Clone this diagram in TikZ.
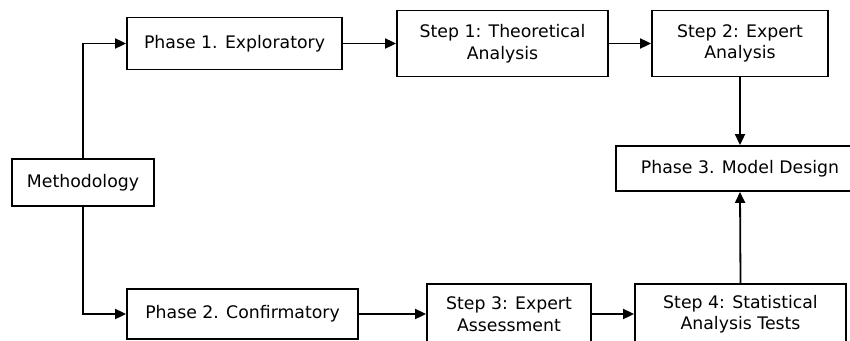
\documentclass[tikz,border=0pt]{standalone}
\usepackage{fontspec}
\setmainfont{DejaVu Sans}
\usetikzlibrary{arrows.meta}

\begin{document}
\begin{tikzpicture}[x=1pt, y=-1pt, line width=1.8pt, box/.style = {shape=rectangle, draw, align=center, fill=white, inner sep=0pt, font=\fontsize{17.3}{21.5}\selectfont}, arr/.style = {-{Triangle[length=11pt, width=10pt]}}]
	\useasboundingbox (0,0) rectangle (850,340);
	\clip (0,0) rectangle (850,340);
	\node[box, minimum width=142, minimum height=47] (method) at (83,182.5) {Methodology};
	\node[box, minimum width=215, minimum height=52] (phaseone) at (234.5,43.5) {Phase 1. Exploratory};
	\node[box, minimum width=211, minimum height=66] (stepone) at (502.5,43.5) {Step 1: Theoretical\\Analysis};
	\node[box, minimum width=176, minimum height=66] (steptwo) at (740,43.5) {Step 2: Expert\\Analysis};
	\node[box, minimum width=248, minimum height=45] (phasethree) at (740,168.5) {Phase 3. Model Design};
	\node[box, minimum width=231, minimum height=50] (phasetwo) at (242.5,314) {Phase 2. Confirmatory};
	\node[box, minimum width=164, minimum height=60] (stepthree) at (509,314) {Step 3: Expert\\Assessment};
	\node[box, minimum width=211, minimum height=60] (stepfour) at (740.5,314) {Step 4: Statistical\\Analysis Tests};
	\draw[arr] (method.north) |- (phaseone.west);
	\draw[arr] (method.south) |- (phasetwo.west);
	\draw[arr] (phaseone.east) -- (stepone.west);
	\draw[arr] (stepone.east) -- (steptwo.west);
	\draw[arr] (steptwo.south) -- (phasethree.north);
	\draw[arr] (phasetwo.east) -- (stepthree.west);
	\draw[arr] (stepthree.east) -- (stepfour.west);
	\draw[arr] (stepfour.north) -- (phasethree.south);
\end{tikzpicture}
\end{document}
